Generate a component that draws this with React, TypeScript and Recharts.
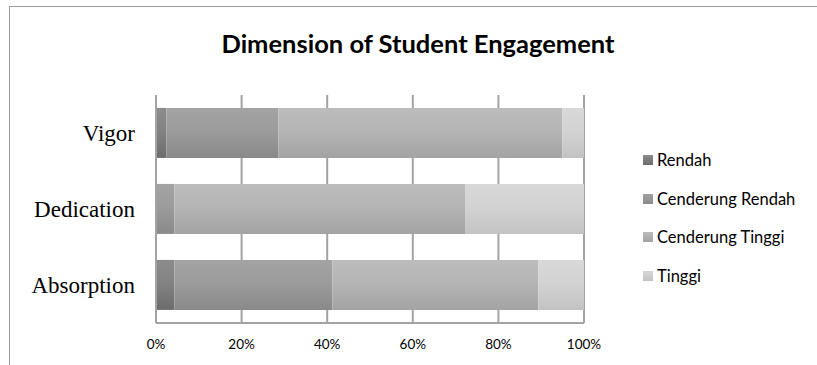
import React from "react";
import { BarChart, Bar, XAxis, YAxis, CartesianGrid } from "recharts";

const categories = ["Vigor", "Dedication", "Absorption"];
const rendah = [2.4, 0, 4.3];
const cenderungRendah = [26.2, 4.3, 36.9];
const cenderungTinggi = [66.3, 67.9, 48.1];
const tinggi = [5.1, 27.8, 10.7];
const seriesNames = ["Rendah", "Cenderung Rendah", "Cenderung Tinggi", "Tinggi"];
const xTicks = [0, 20, 40, 60, 80, 100];

// top, middle, bottom gradient stops per series
const SHADES = [
  ["#8c8c8c", "#838383", "#6c6c6c"],
  ["#a3a3a3", "#9c9c9c", "#898989"],
  ["#bcbcbc", "#b5b5b5", "#a3a3a3"],
  ["#d8d8d8", "#d3d3d3", "#c3c3c3"],
];
const KEYS = ["rendah", "cRendah", "cTinggi", "tinggi"];

const data = categories.map((name, i) => ({
  name,
  rendah: rendah[i],
  cRendah: cenderungRendah[i],
  cTinggi: cenderungTinggi[i],
  tinggi: tinggi[i],
}));

const SANS = "Lato, 'Open Sans', sans-serif";

export default function App() {
  return (
    <div style={{ position: "relative", width: 817, height: 365, background: "#fff" }}>
      <style>{`body{margin:0}`}</style>
      <div style={{ position: "absolute", left: 9, top: 6, right: -2, bottom: 0, borderLeft: "1px solid #9a9a9a", borderTop: "1px solid #9a9a9a" }} />
      <div
        style={{
          position: "absolute",
          left: 0,
          width: 836,
          top: 28,
          textAlign: "center",
          fontFamily: SANS,
          fontWeight: 700,
          fontSize: 25.5,
          color: "#000",
        }}
      >
        Dimension of Student Engagement
      </div>
      <BarChart
        width={817}
        height={365}
        data={data}
        layout="vertical"
        barCategoryGap="17%"
        margin={{ top: 95, right: 233, bottom: 12, left: 10 }}
        style={{ position: "absolute", left: 0, top: 0 }}
      >
        <defs>
          {SHADES.map((s, i) => (
            <linearGradient key={i} id={`g${i}`} x1="0" y1="0" x2="0" y2="1">
              <stop offset="0%" stopColor={s[0]} />
              <stop offset="45%" stopColor={s[1]} />
              <stop offset="100%" stopColor={s[2]} />
            </linearGradient>
          ))}
        </defs>
        <CartesianGrid horizontal={false} stroke="#a3a3a3" strokeWidth={2} />
        <XAxis
          type="number"
          domain={[0, 100]}
          ticks={xTicks}
          tickFormatter={(v) => `${v}%`}
          axisLine={{ stroke: "#a3a3a3", strokeWidth: 2 }}
          tickLine={false}
          height={30}
          tickMargin={10}
          tick={{ fill: "#000", fontSize: 13.5, fontFamily: SANS }}
        />
        <YAxis
          type="category"
          dataKey="name"
          width={146}
          axisLine={{ stroke: "#a3a3a3", strokeWidth: 2 }}
          tickLine={false}
          tickMargin={15}
          tick={{ fill: "#000", fontSize: 23, fontFamily: "'Liberation Serif', 'Times New Roman', serif" }}
        />
        {KEYS.map((k, i) => (
          <Bar key={k} dataKey={k} name={seriesNames[i]} stackId="a" fill={`url(#g${i})`} isAnimationActive={false} />
        ))}
      </BarChart>
      {seriesNames.map((n, i) => (
        <div
          key={n}
          style={{
            position: "absolute",
            left: 643,
            top: 150 + i * 38.7,
            display: "flex",
            alignItems: "center",
            fontFamily: SANS,
            fontSize: 16.5,
            color: "#000",
            whiteSpace: "nowrap",
          }}
        >
          <span style={{ display: "inline-block", width: 10, height: 10, marginRight: 4, background: `linear-gradient(${SHADES[i][0]}, ${SHADES[i][2]})` }} />
          {n}
        </div>
      ))}
    </div>
  );
}
